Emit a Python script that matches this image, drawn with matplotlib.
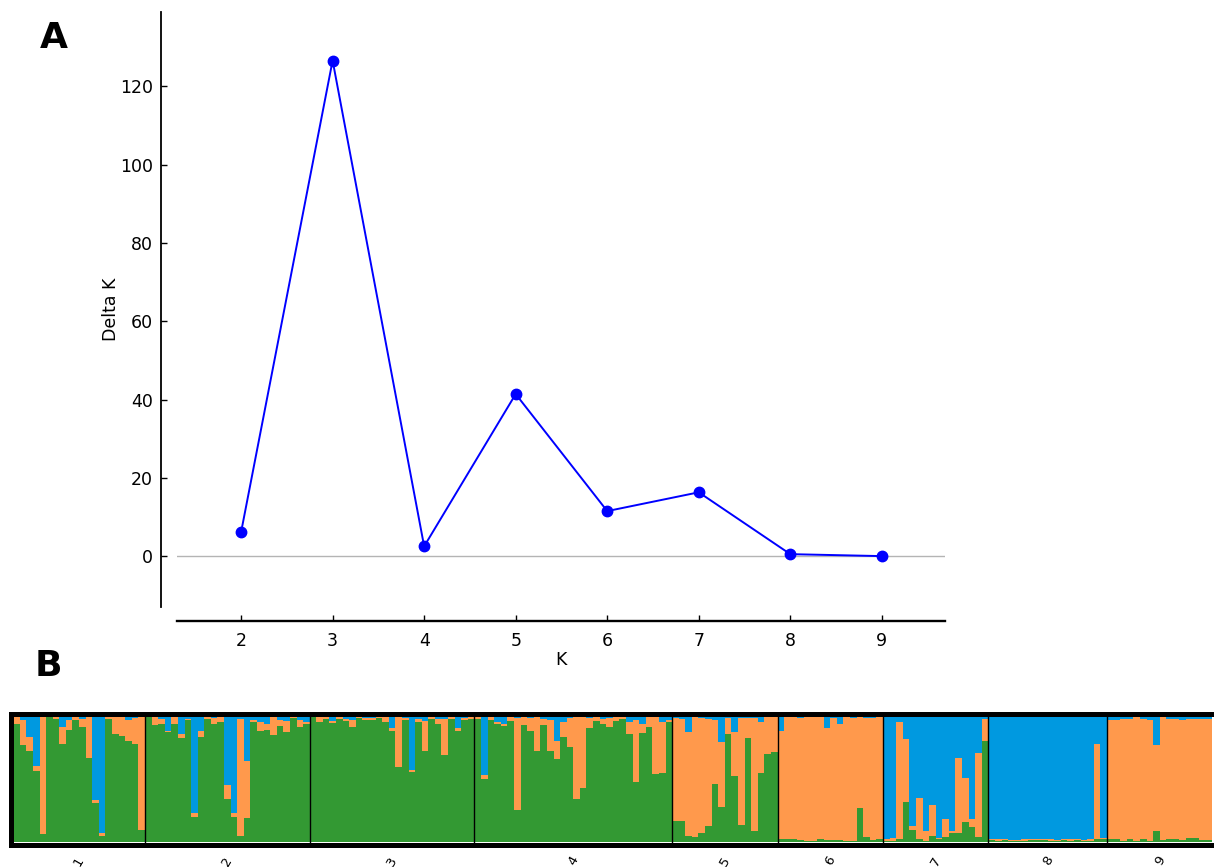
import numpy as np
from matplotlib import pyplot as plt

# Evanno delta K
k_values = [2, 3, 4, 5, 6, 7, 8, 9]
delta_k = [6.1, 126.6, 2.5, 41.4, 11.5, 16.3, 0.5, 0.0]

# STRUCTURE membership, K=3 (green / orange, blue is the rest)
pop_names = ["1", "2", "3", "4", "5", "6", "7", "8", "9"]

green_1 = [0.94, 0.77, 0.725, 0.567, 0.063, 0.99, 0.98, 0.78, 0.89, 0.97,
           0.91, 0.665, 0.31, 0.05, 0.976, 0.86, 0.845, 0.80, 0.776, 0.098]
orange_1 = [0.05, 0.20, 0.105, 0.04, 0.93, 0.005, 0.015, 0.13, 0.08, 0.025,
            0.07, 0.325, 0.02, 0.02, 0.018, 0.137, 0.15, 0.166, 0.206, 0.897]

green_2 = [0.99, 0.93, 0.94, 0.87, 0.94, 0.825, 0.97, 0.20, 0.83, 0.98,
           0.94, 0.95, 0.34, 0.195, 0.05, 0.19, 0.955, 0.885, 0.89, 0.85,
           0.92, 0.875, 0.985, 0.915, 0.935]
orange_2 = [0.01, 0.06, 0.04, 0.015, 0.05, 0.03, 0.01, 0.034, 0.05, 0.01,
            0.045, 0.05, 0.11, 0.035, 0.93, 0.45, 0.015, 0.065, 0.045, 0.145,
            0.045, 0.085, 0.01, 0.05, 0.02]

green_3 = [0.99, 0.95, 0.98, 0.945, 0.98, 0.96, 0.91, 0.985, 0.97, 0.97,
           0.985, 0.955, 0.885, 0.595, 0.97, 0.555, 0.955, 0.72, 0.98, 0.94,
           0.69, 0.975, 0.885, 0.97, 0.975]
orange_3 = [0.01, 0.04, 0.015, 0.015, 0.015, 0.02, 0.06, 0.01, 0.015, 0.015,
            0.01, 0.04, 0.02, 0.40, 0.015, 0.015, 0.02, 0.24, 0.015, 0.035,
            0.29, 0.015, 0.02, 0.015, 0.015]

green_4 = [0.975, 0.50, 0.97, 0.935, 0.92, 0.96, 0.255, 0.93, 0.88, 0.72,
           0.93, 0.72, 0.655, 0.83, 0.755, 0.34, 0.425, 0.905, 0.96, 0.935,
           0.91, 0.96, 0.975, 0.855, 0.48, 0.865, 0.915, 0.54, 0.55, 0.95]
orange_4 = [0.02, 0.035, 0.02, 0.015, 0.02, 0.035, 0.73, 0.06, 0.105, 0.27,
            0.05, 0.25, 0.145, 0.125, 0.23, 0.66, 0.57, 0.08, 0.035, 0.04,
            0.075, 0.035, 0.015, 0.10, 0.49, 0.07, 0.08, 0.455, 0.40, 0.02]

green_5 = [0.165, 0.165, 0.05, 0.04, 0.075, 0.125, 0.46, 0.28, 0.86, 0.52,
           0.135, 0.825, 0.085, 0.55, 0.695, 0.715]
orange_5 = [0.82, 0.815, 0.825, 0.955, 0.91, 0.85, 0.51, 0.51, 0.125, 0.35,
            0.85, 0.16, 0.90, 0.40, 0.30, 0.285]

green_6 = [0.02, 0.025, 0.02, 0.013, 0.01, 0.01, 0.02, 0.013, 0.013, 0.018,
           0.01, 0.01, 0.27, 0.037, 0.013, 0.02]
orange_6 = [0.86, 0.965, 0.97, 0.97, 0.98, 0.98, 0.97, 0.89, 0.975, 0.92,
            0.98, 0.975, 0.725, 0.95, 0.97, 0.97]

green_7 = [0.01, 0.01, 0.02, 0.315, 0.095, 0.02, 0.01, 0.05, 0.02, 0.04,
           0.07, 0.07, 0.155, 0.12, 0.04, 0.80]
orange_7 = [0.01, 0.02, 0.93, 0.505, 0.03, 0.33, 0.08, 0.24, 0.015, 0.145,
            0.02, 0.595, 0.35, 0.065, 0.665, 0.18]

green_8 = [0.012, 0.01, 0.015, 0.01, 0.008, 0.01, 0.012, 0.015, 0.012, 0.01,
           0.01, 0.012, 0.01, 0.012, 0.008, 0.01, 0.02, 0.02]
orange_8 = [0.01, 0.012, 0.01, 0.008, 0.01, 0.012, 0.008, 0.01, 0.012, 0.01,
            0.008, 0.01, 0.012, 0.01, 0.008, 0.01, 0.755, 0.008]

green_9 = [0.02, 0.02, 0.01, 0.025, 0.01, 0.025, 0.01, 0.09, 0.015, 0.02,
           0.02, 0.015, 0.03, 0.035, 0.015, 0.015]
orange_9 = [0.95, 0.95, 0.97, 0.955, 0.98, 0.955, 0.96, 0.68, 0.975, 0.96,
            0.96, 0.955, 0.95, 0.945, 0.96, 0.965]

greens = [green_1, green_2, green_3, green_4, green_5, green_6, green_7, green_8, green_9]
oranges = [orange_1, orange_2, orange_3, orange_4, orange_5, orange_6, orange_7, orange_8, orange_9]

c_green = '#339933'
c_orange = '#ff994c'
c_blue = '#0099e0'

W, H = 1214, 867
fig = plt.figure(figsize=(W / 100, H / 100), dpi=100)

# ---- A: delta K ----
ax1 = fig.add_axes([177 / W, 1 - 607 / H, 768 / W, 595 / H])
ax1.axhline(0, color='#b4b4b4', lw=1, zorder=1)
ax1.plot(k_values, delta_k, color='blue', lw=1.4, marker='o', markersize=7.5, zorder=3)
ax1.set_xlim(1.3, 9.69)
ax1.set_ylim(-13, 139)
ax1.set_xticks(k_values)
ax1.set_yticks([0, 20, 40, 60, 80, 100, 120])
ax1.spines['top'].set_visible(False)
ax1.spines['right'].set_visible(False)
ax1.spines['left'].set_position(('outward', 11.5))
ax1.spines['bottom'].set_position(('outward', 10))
ax1.spines['left'].set_linewidth(1.3)
ax1.spines['bottom'].set_linewidth(1.7)
ax1.tick_params(direction='in', length=4.5, width=1, labelsize=12.5)
ax1.tick_params(axis='x', pad=8)
ax1.tick_params(axis='y', pad=6)
ax1.set_xlabel("K", fontsize=12.5, labelpad=1)
ax1.set_ylabel("Delta K", fontsize=12.5, labelpad=0)

fig.text(40 / W, 1 - 48 / H, "A", fontsize=26, weight='bold')
fig.text(35 / W, 1 - 676 / H, "B", fontsize=26, weight='bold')

# ---- B: barplot ----
ax2 = fig.add_axes([10.56 / W, 1 - 844.5 / H, (1214.4 - 10.56) / W, 131 / H])
start = 0
bounds = []
centers = []
for g, o in zip(greens, oranges):
    g = np.array(g)
    o = np.array(o)
    b = 1 - g - o
    x = np.arange(start, start + len(g))
    ax2.bar(x, g, width=1, align='edge', color=c_green, lw=0)
    ax2.bar(x, o, width=1, align='edge', bottom=g, color=c_orange, lw=0)
    ax2.bar(x, b, width=1, align='edge', bottom=g + o, color=c_blue, lw=0)
    centers.append(start + len(g) / 2)
    start += len(g)
    bounds.append(start)

for xb in bounds[:-1]:
    ax2.axvline(xb, color='black', lw=1)

ax2.set_xlim(-0.4, 182.3)
ax2.set_ylim(-0.02, 1.02)
ax2.set_yticks([])
ax2.set_xticks(centers)
ax2.set_xticklabels(pop_names, rotation=60, fontsize=9.5)
ax2.tick_params(axis='x', length=0, pad=7)
for s in ['left', 'top', 'bottom']:
    ax2.spines[s].set_linewidth(3.6)
ax2.spines['right'].set_visible(False)

fig.savefig("out.png", dpi=100)
